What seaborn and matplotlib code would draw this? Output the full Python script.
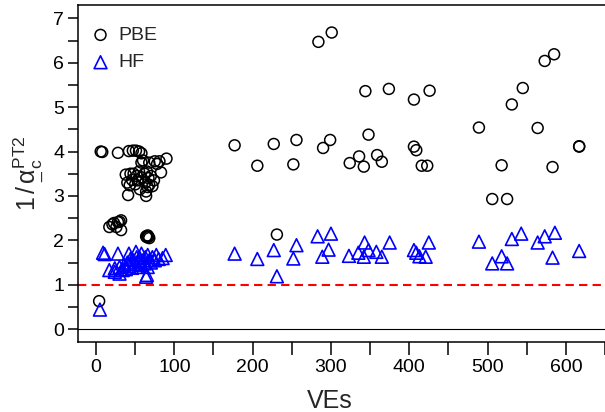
"""
1/alpha_c (PT2) vs number of VEs, PBE and HF
"""

import matplotlib
matplotlib.use("Agg")
import matplotlib.pyplot as plt
from matplotlib.ticker import MultipleLocator
from matplotlib.mathtext import MathTextParser
import seaborn as sns
import pandas as pd

# PBE (open black circles)
pbe_x = [4, 6, 8, 28, 42, 47, 51, 55, 58,
         58, 60, 68, 75, 78, 81, 83, 90,
         38, 40, 41, 43, 44, 46, 48, 50, 52, 53, 55, 56, 58,
         62, 63, 64, 64, 65, 66, 67, 68, 70, 72, 74,
         17, 21, 23, 26, 28, 30, 32, 32,
         64, 65, 66, 67, 68,
         177, 206, 227, 231, 252, 256, 284, 290, 299, 301,
         324, 336, 342, 344, 348, 359, 365, 374,
         406, 406, 409, 416, 423, 426,
         489, 506, 518, 525, 531, 545, 564, 573, 583, 585, 617, 617]
pbe_y = [0.63, 4.00, 3.99, 3.97, 4.01, 4.02, 4.02, 4.00, 3.96,
         3.75, 3.80, 3.75, 3.78, 3.72, 3.78, 3.53, 3.84,
         3.48, 3.30, 3.02, 3.24, 3.50, 3.36, 3.50, 3.26, 3.45, 3.35, 3.55, 3.15, 3.42,
         3.50, 3.30, 3.00, 3.10, 3.55, 3.20, 3.40, 3.25, 3.45, 3.22, 3.35,
         2.30, 2.36, 2.39, 2.30, 2.41, 2.42, 2.45, 2.23,
         2.09, 2.07, 2.11, 2.08, 2.05,
         4.14, 3.68, 4.17, 2.13, 3.71, 4.26, 6.47, 4.08, 4.26, 6.68,
         3.74, 3.89, 3.66, 5.36, 4.38, 3.92, 3.77, 5.41,
         5.17, 4.11, 4.03, 3.68, 3.68, 5.37,
         4.54, 2.93, 3.69, 2.93, 5.06, 5.43, 4.53, 6.04, 3.65, 6.19, 4.11, 4.12]

# HF (open blue triangles)
hf_x = [5, 9, 11, 28, 42, 51, 58, 66, 77, 89,
        17, 24, 24, 30, 30, 34, 36, 38, 40, 42, 44, 46, 48, 50, 52, 54, 55,
        56, 58, 60, 62, 63, 64, 65, 66, 68, 70, 72, 75, 80, 85,
        177, 206, 227, 231, 252, 256, 283, 289, 297, 300,
        323, 335, 342, 343, 348, 358, 365, 375,
        406, 409, 413, 421, 425,
        489, 506, 518, 525, 531, 543, 564, 573, 583, 586, 617]
hf_y = [0.44, 1.72, 1.69, 1.70, 1.70, 1.74, 1.70, 1.67, 1.67, 1.67,
        1.33, 1.37, 1.29, 1.25, 1.40, 1.33, 1.45, 1.35, 1.50, 1.42, 1.58, 1.38, 1.55, 1.47, 1.62, 1.40, 1.52,
        1.60, 1.45, 1.55, 1.48, 1.62, 1.18, 1.22, 1.40, 1.55, 1.50, 1.62, 1.55, 1.58, 1.60,
        1.70, 1.58, 1.78, 1.19, 1.59, 1.89, 2.09, 1.63, 1.79, 2.15,
        1.65, 1.72, 1.63, 1.95, 1.78, 1.74, 1.63, 1.95,
        1.78, 1.72, 1.64, 1.63, 1.95,
        1.97, 1.48, 1.64, 1.48, 2.03, 2.15, 1.95, 2.09, 1.61, 2.17, 1.76]

xticks = [0, 100, 200, 300, 400, 500, 600]
yticks = [0, 1, 2, 3, 4, 5, 6, 7]

sns.set_style("ticks")
plt.rcParams["font.family"] = ["Liberation Sans", "DejaVu Sans"]
plt.rcParams["mathtext.fontset"] = "custom"
plt.rcParams["mathtext.rm"] = "Liberation Sans"
plt.rcParams["mathtext.it"] = "Liberation Sans"

pbe = pd.DataFrame({"VEs": pbe_x, "val": pbe_y})
hf = pd.DataFrame({"VEs": hf_x, "val": hf_y})

fig = plt.figure(figsize=(6.05, 4.12), dpi=100)
ax = fig.add_axes([78 / 605, 70 / 412, 527 / 605, 337 / 412])

ax.axhline(0, color="black", lw=0.8, zorder=1)
ax.axhline(1, color="red", lw=1.5, ls=(0, (4, 2.5)), zorder=1)

sns.scatterplot(data=pbe, x="VEs", y="val", ax=ax, marker="o", s=62,
                facecolors="none", edgecolor="black", linewidth=1.1, label="PBE", zorder=3)
sns.scatterplot(data=hf, x="VEs", y="val", ax=ax, marker="^", s=85,
                facecolors="none", edgecolor="blue", linewidth=1.2, label="HF", zorder=3)

ax.set_xlim(-23, 650)
ax.set_ylim(-0.29, 7.3)
ax.set_xticks(xticks)
ax.set_yticks(yticks)
ax.xaxis.set_minor_locator(MultipleLocator(50))
ax.yaxis.set_minor_locator(MultipleLocator(0.5))
ax.tick_params(axis="both", which="both", direction="out", width=1.1,
               labelsize=14, color="black", labelcolor="black")
ax.tick_params(axis="x", which="both", length=9.5, pad=3)
ax.tick_params(axis="y", which="both", length=7, pad=3)

for side in ["left", "bottom", "top"]:
    ax.spines[side].set_linewidth(1.1)
    ax.spines[side].set_color("black")
ax.spines["right"].set_visible(False)

# underlined alpha if mathtext can do it
labels = [r"$1\,/\,\underline{\alpha}_{\mathrm{c}}^{\mathrm{PT2}}$",
          r"$1\,/\,\underset{\_}{\alpha}_{\mathrm{c}}^{\mathrm{PT2}}$",
          r"$1\,/\,\alpha_{\mathrm{c}}^{\mathrm{PT2}}$"]
ylab = labels[-1]
for lab in labels:
    try:
        MathTextParser("path").parse(lab)
        ylab = lab
        break
    except Exception:
        pass
ax.set_ylabel(ylab, fontsize=18)
ax.yaxis.set_label_coords(-0.062, 0.5)
ax.set_xlabel("VEs", fontsize=18)
ax.xaxis.set_label_coords(0.478, -0.138)

ax.legend(loc="upper left", bbox_to_anchor=(-0.02, 1.0), frameon=False, fontsize=14,
          handletextpad=0.3, handlelength=1.2, labelspacing=0.5,
          borderaxespad=0.8, borderpad=0.3)

fig.savefig("out.png", dpi=100)
